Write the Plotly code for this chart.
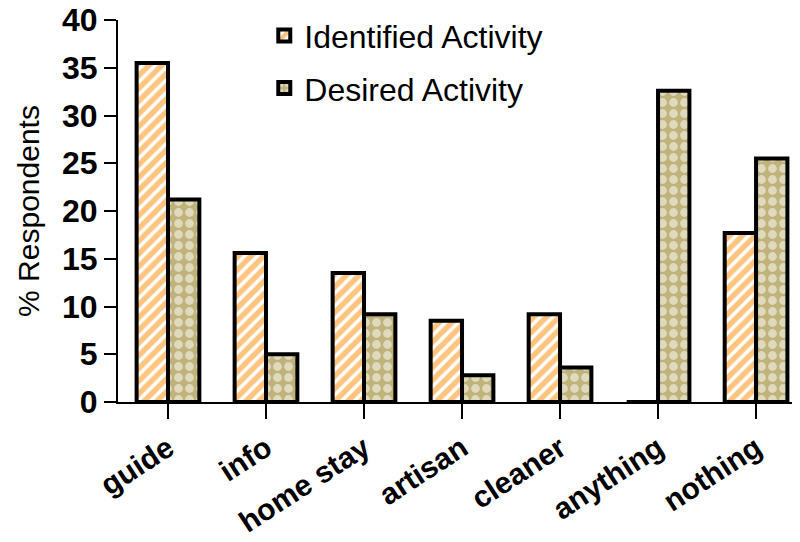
import plotly.graph_objects as go

categories = ["guide", "info", "home stay", "artisan", "cleaner", "anything", "nothing"]
identified = [35.5, 15.6, 13.5, 8.5, 9.2, 0, 17.7]
desired = [21.2, 5.0, 9.2, 2.8, 3.6, 32.6, 25.5]
y_ticks = [0, 5, 10, 15, 20, 25, 30, 35, 40]

ORANGE = "#FF8A00"
TAN = "#BFB27A"

fig = go.Figure()
fig.add_trace(go.Bar(
    x=categories, y=identified, name="Identified Activity",
    legendgroup="a",
    marker=dict(color="white",
                line=dict(color="black", width=4),
                pattern=dict(shape="/", fgcolor=ORANGE, bgcolor="white",
                             size=9, solidity=0.6, fillmode="overlay")),
))
fig.add_trace(go.Bar(
    x=categories, y=desired, name="Desired Activity",
    legendgroup="b",
    marker=dict(color=TAN,
                line=dict(color="black", width=4),
                pattern=dict(shape=".", fgcolor="white", bgcolor=TAN,
                             size=11, solidity=0.5, fillmode="overlay")),
))

fig.update_layout(
    width=800, height=542,
    margin=dict(l=110, r=0, t=12, b=148),
    paper_bgcolor="white", plot_bgcolor="white",
    barmode="group", bargap=0.36, bargroupgap=0,
    font=dict(family="Liberation Sans, Arial", color="black"),
    showlegend=True,
    legend=dict(x=0.212, y=1.031, xanchor="left", yanchor="top",
                font=dict(size=32, color="black"),
                tracegroupgap=8, bgcolor="rgba(0,0,0,0)"),
    xaxis=dict(range=[-0.51, 6.53], showline=True, linecolor="black", linewidth=2,
               ticks="outside", ticklen=15, tickwidth=1.5, tickcolor="black",
               tickangle=-33, automargin=False, ticklabeloverflow="allow",
               tickfont=dict(size=30, weight="bold", color="black"),
               showgrid=False, zeroline=False),
    yaxis=dict(range=[0, 40], tickvals=y_ticks, showline=True, linecolor="black",
               linewidth=2, ticks="outside", ticklen=12, tickwidth=1.5,
               tickcolor="black", automargin=False, ticklabeloverflow="allow",
               tickfont=dict(size=32, weight="bold", color="black"),
               title=dict(text="% Respondents", font=dict(size=30, color="black"),
                          standoff=14),
               showgrid=False, zeroline=False),
)

fig.write_html("out.html")
